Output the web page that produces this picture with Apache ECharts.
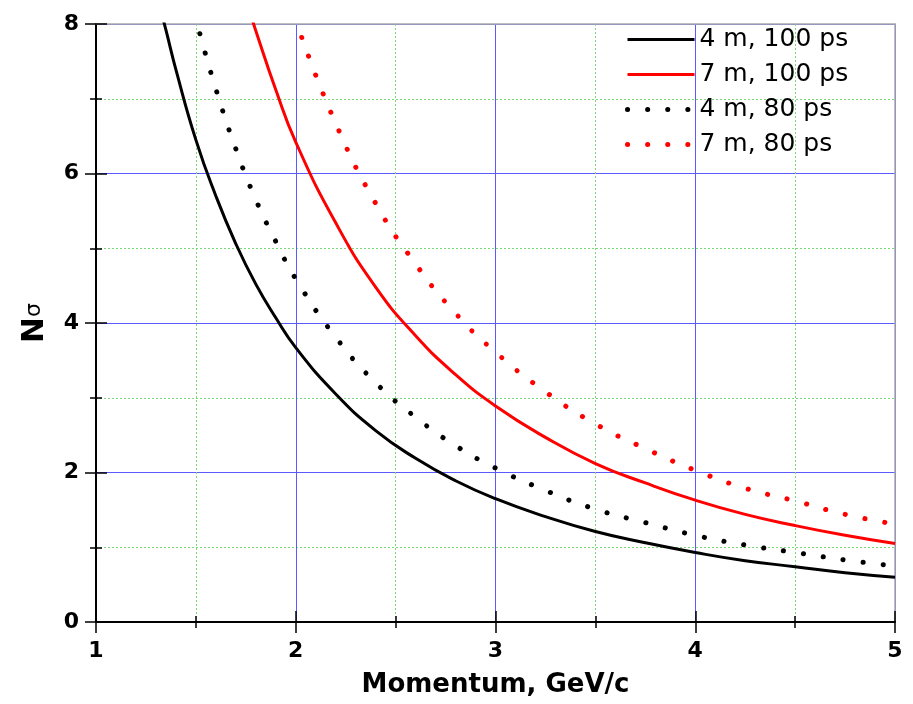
<!DOCTYPE html>
<html>
<head>
<meta charset="utf-8">
<script src="https://cdn.jsdelivr.net/npm/echarts@6/dist/echarts.min.js"></script>
<style>html,body{margin:0;background:#fff}#chart{width:913px;height:704px}</style>
</head>
<body>
<div id="chart"></div>
<script>
// momentum (GeV/c) and separation (N sigma)
const p4m100 = [1.33, 1.35, 1.4, 1.5, 1.6, 1.7, 1.8, 1.9, 2.0, 2.2, 2.4, 2.6, 2.8, 3.0, 3.25, 3.5, 3.75, 4.0, 4.25, 4.5, 4.75, 5.0];
const n4m100 = [8.12, 7.92, 7.39, 6.45, 5.70, 5.06, 4.52, 4.07, 3.67, 3.05, 2.56, 2.19, 1.89, 1.65, 1.41, 1.21, 1.06, 0.93, 0.82, 0.74, 0.66, 0.60];

const p7m100 = [1.78, 1.8, 1.9, 2.0, 2.2, 2.4, 2.6, 2.8, 3.0, 3.25, 3.5, 3.75, 4.0, 4.25, 4.5, 4.75, 5.0];
const n7m100 = [8.08, 7.91, 7.12, 6.42, 5.34, 4.48, 3.83, 3.31, 2.89, 2.47, 2.12, 1.86, 1.63, 1.44, 1.29, 1.16, 1.05];

const p4m80 = [1.52, 1.6, 1.7, 1.8, 1.9, 2.0, 2.2, 2.4, 2.6, 2.8, 3.0, 3.25, 3.5, 3.75, 4.0, 4.25, 4.5, 4.75, 5.0];
const n4m80 = [7.87, 7.13, 6.33, 5.65, 5.09, 4.59, 3.81, 3.20, 2.74, 2.36, 2.06, 1.76, 1.51, 1.33, 1.16, 1.03, 0.93, 0.83, 0.75];

const p7m80 = [2.03, 2.2, 2.4, 2.6, 2.8, 3.0, 3.25, 3.5, 3.75, 4.0, 4.25, 4.5, 4.75, 5.0];
const n7m80 = [7.82, 6.67, 5.60, 4.79, 4.13, 3.61, 3.08, 2.65, 2.32, 2.03, 1.79, 1.62, 1.44, 1.31];

const seriesNames = ['4 m, 100 ps', '7 m, 100 ps', '4 m, 80 ps', '7 m, 80 ps'];

const pairs = (xs, ys) => xs.map((x, i) => [x, ys[i]]);

const chart = echarts.init(document.getElementById('chart'));

const tickFont = { fontFamily: 'DejaVu Sans', fontWeight: 'bold', fontSize: 22, color: '#000' };
const tickLine = { color: '#000', width: 1.5 };
const noGrid = { splitLine: { show: false }, minorSplitLine: { show: false }, splitArea: { show: false } };
const majorGrid = { show: true, lineStyle: { color: '#5a5aff', width: 1 } };
const minorGrid = { show: true, lineStyle: { color: '#7ad87a', width: 1, type: [2, 2] } };

// main axes (labels, outside ticks, grid lines)
const xMain = {
    type: 'value', min: 1, max: 5, interval: 1, position: 'bottom',
    name: 'Momentum, GeV/c', nameLocation: 'middle', nameGap: 50,
    nameTextStyle: { fontFamily: 'DejaVu Sans', fontWeight: 'bold', fontSize: 26, color: '#000' },
    axisLine: { show: true, onZero: false, lineStyle: { color: '#000', width: 2 } },
    axisTick: { show: true, length: 11, lineStyle: tickLine },
    minorTick: { show: true, splitNumber: 2, length: 6, lineStyle: tickLine },
    axisLabel: Object.assign({ margin: 18 }, tickFont),
    splitLine: majorGrid,
    minorSplitLine: minorGrid
};
const yMain = {
    type: 'value', min: 0, max: 8, interval: 2, position: 'left',
    name: '{n|N}{s|σ}', nameLocation: 'middle', nameGap: 46,
    nameTextStyle: {
        rich: {
            n: { fontFamily: 'DejaVu Sans', fontWeight: 'bold', fontSize: 31, color: '#000' },
            s: { fontFamily: 'DejaVu Sans', fontSize: 22, color: '#000' }
        }
    },
    axisLine: { show: true, onZero: false, lineStyle: { color: '#000', width: 2 } },
    axisTick: { show: true, length: 11, lineStyle: tickLine },
    minorTick: { show: true, splitNumber: 2, length: 6, lineStyle: tickLine },
    axisLabel: Object.assign({ margin: 17 }, tickFont),
    splitLine: majorGrid,
    minorSplitLine: minorGrid
};
// twin axes only to draw the inward half of the crossing ticks
const xTwin = Object.assign({
    type: 'value', min: 1, max: 5, interval: 1, position: 'bottom',
    axisLine: { show: false },
    axisTick: { show: true, inside: true, length: 11, lineStyle: tickLine },
    minorTick: { show: true, splitNumber: 2, length: 6, lineStyle: tickLine },
    axisLabel: { show: false }
}, noGrid);
const yTwin = Object.assign({
    type: 'value', min: 0, max: 8, interval: 2, position: 'left',
    axisLine: { show: false },
    axisTick: { show: true, inside: true, length: 11, lineStyle: tickLine },
    minorTick: { show: true, splitNumber: 2, length: 6, lineStyle: tickLine },
    axisLabel: { show: false }
}, noGrid);
// grey frame on top and right
const xFrame = Object.assign({
    type: 'value', min: 1, max: 5, interval: 1, position: 'top',
    axisLine: { show: true, onZero: false, lineStyle: { color: '#aaaaaa', width: 1.5 } },
    axisTick: { show: false }, axisLabel: { show: false }
}, noGrid);
const yFrame = Object.assign({
    type: 'value', min: 0, max: 8, interval: 2, position: 'right',
    axisLine: { show: true, onZero: false, lineStyle: { color: '#aaaaaa', width: 1.5 } },
    axisTick: { show: false }, axisLabel: { show: false }
}, noGrid);

const solid = (color) => ({ color: color, width: 3, type: 'solid' });
const dotted = (color) => ({ color: color, width: 5, type: [0.1, 20], cap: 'round' });

const styles = [solid('#000'), solid('#ff0000'), dotted('#000'), dotted('#ff0000')];

const option = {
    animation: false,
    backgroundColor: '#fff',
    grid: { left: 96, right: 18, top: 24, bottom: 82 },
    legend: {
        orient: 'vertical', left: 625, top: 27, padding: 0,
        itemWidth: 67, itemHeight: 20, itemGap: 10,
        itemStyle: { opacity: 0 },
        textStyle: { fontFamily: 'DejaVu Sans', fontSize: 25, color: '#000', lineHeight: 20, padding: 0 },
        data: seriesNames.map((name, i) => ({ name: name, lineStyle: styles[i], itemStyle: { opacity: 0 } }))
    },
    xAxis: [xMain, xTwin, xFrame],
    yAxis: [yMain, yTwin, yFrame],
    series: seriesNames.map((name, i) => ({
        name: name, type: 'line', smooth: true, showSymbol: false, symbol: 'none',
        color: styles[i].color, lineStyle: styles[i],
        data: [pairs(p4m100, n4m100), pairs(p7m100, n7m100), pairs(p4m80, n4m80), pairs(p7m80, n7m80)][i]
    }))
};

chart.setOption(option);
</script>
</body>
</html>
